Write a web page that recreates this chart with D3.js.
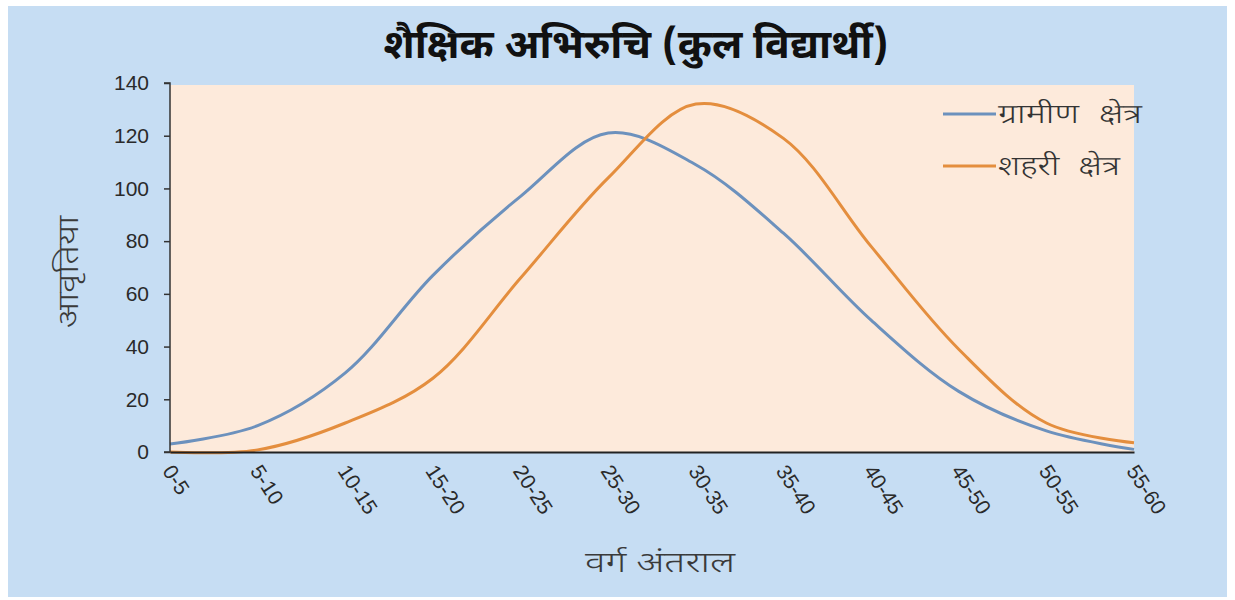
<!DOCTYPE html>
<html><head><meta charset="utf-8">
<script src="https://cdn.jsdelivr.net/npm/d3@7"></script>
<style>
html,body{margin:0;padding:0;background:#fff;}
text{font-family:"Noto Sans Devanagari","Noto Sans",Arial,sans-serif;}
.num{font-family:"Liberation Sans",Arial,sans-serif;}
</style></head>
<body>
<svg id="chart" width="1235" height="600"></svg>
<script>
const categories = ["0-5","5-10","10-15","15-20","20-25","25-30","30-35","35-40","40-45","45-50","50-55","55-60"];
const ruralValues = [3, 10, 30, 67, 97, 121, 109, 83, 50, 23, 8, 1];
const urbanValues = [0, 0.8, 11, 28, 66, 104, 132, 119, 78, 39, 11, 3.5];
const yTicks = [0, 20, 40, 60, 80, 100, 120, 140];
const seriesNames = ["ग्रामीण क्षेत्र", "शहरी क्षेत्र"];
const titleText = "शैक्षिक अभिरुचि (कुल विद्यार्थी)";
const yTitle = "आवृतिया";
const xTitle = "वर्ग अंतराल";

const svg = d3.select("#chart");
svg.append("rect").attr("x",8).attr("y",6).attr("width",1219).attr("height",591).attr("fill","#c6ddf3");

const mLeft = 170, mRight = 1134, mTop = 83, mBottom = 452;
const x = d3.scalePoint().domain(categories).range([mLeft, mRight]);
const y = d3.scaleLinear().domain([0, 140]).range([mBottom, mTop]);

svg.append("rect").attr("x",mLeft).attr("y",mTop+2).attr("width",mRight-mLeft).attr("height",mBottom-mTop-2).attr("fill","#fdeadb");

const series = [
  {name: seriesNames[0], values: ruralValues, color: "#6c91bd", len: 144},
  {name: seriesNames[1], values: urbanValues, color: "#e48e3e", len: 122}
];
const line = d3.line().x((d,i)=>x(categories[i])).y(d=>y(d)).curve(d3.curveCatmullRom.alpha(0.5));
series.forEach(s=>{
  svg.append("path").datum(s.values).attr("d", line).attr("fill","none")
    .attr("stroke", s.color).attr("stroke-width", 3).attr("stroke-linejoin","round");
});

// Y axis
const yAxis = svg.append("g").attr("transform",`translate(${mLeft},0)`)
  .call(d3.axisLeft(y).tickValues(yTicks).tickSize(6).tickPadding(15));
yAxis.select(".domain").attr("stroke","#333").attr("stroke-width",1.5).attr("d",`M-6,${mTop}H0V${mBottom}H-6`);
yAxis.selectAll(".tick line").attr("stroke","#333").attr("stroke-width",1.5);
yAxis.selectAll(".tick text").attr("class","num").attr("font-size",21).attr("fill","#2a2a2a");

// X axis
const xAxis = svg.append("g").attr("transform",`translate(0,${mBottom})`)
  .call(d3.axisBottom(x).tickSize(0).tickFormat(""));
xAxis.select(".domain").attr("stroke","#222").attr("stroke-width",2);
svg.append("g").selectAll("text").data(categories).join("text")
  .attr("class","num")
  .attr("transform", d=>`translate(${x(d)-2},${mBottom+15}) rotate(57)`)
  .attr("dy","0.35em").attr("text-anchor","start")
  .attr("font-size",21).attr("fill","#2a2a2a").text(d=>d);

// Titles
svg.append("text").attr("x",636).attr("y",58).attr("text-anchor","middle")
  .attr("font-size",40).attr("font-weight","bold").attr("fill","#111")
  .attr("textLength",505).attr("lengthAdjust","spacingAndGlyphs").text(titleText);
svg.append("text").attr("transform","translate(78,272) rotate(-90)").attr("text-anchor","middle")
  .attr("font-size",29).attr("font-weight",300).attr("fill","#3a3a3a")
  .attr("textLength",112).attr("lengthAdjust","spacingAndGlyphs").text(yTitle);
svg.append("text").attr("x",660).attr("y",572).attr("text-anchor","middle")
  .attr("font-size",28).attr("font-weight",300).attr("fill","#3a3a3a")
  .attr("textLength",150).attr("lengthAdjust","spacingAndGlyphs").text(xTitle);

// Legend
const leg = svg.append("g");
series.forEach((s,i)=>{
  const ly = 114 + i*52;
  leg.append("line").attr("x1",943).attr("x2",996).attr("y1",ly).attr("y2",ly)
    .attr("stroke",s.color).attr("stroke-width",3);
  leg.append("text").attr("x",998).attr("y",ly).attr("dy","0.35em")
    .attr("font-size",27).attr("font-weight",300).attr("fill","#333")
    .attr("word-spacing","8px")
    .attr("textLength",s.len).attr("lengthAdjust","spacingAndGlyphs").text(s.name);
});
</script>
</body></html>
